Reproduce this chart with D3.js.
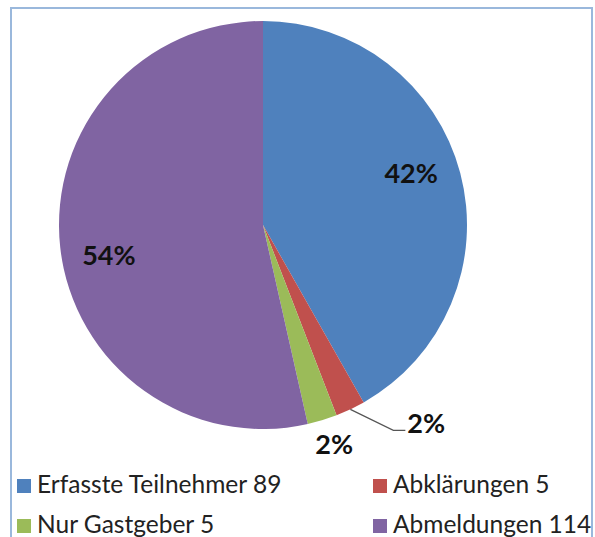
<!DOCTYPE html>
<html>
<head>
<meta charset="utf-8">
<script src="https://cdn.jsdelivr.net/npm/d3@7"></script>
<style>
  html, body { margin: 0; padding: 0; background: #fff; }
  svg { display: block; }
</style>
</head>
<body>
<svg id="chart"></svg>
<script>
const width = 595;
const height = 537;

// data
const categories = ["Erfasste Teilnehmer", "Abklärungen", "Nur Gastgeber", "Abmeldungen"];
const counts = [89, 5, 5, 114];
const percentLabels = ["42%", "2%", "2%", "54%"];
const colors = ["#4f81bd", "#c0504d", "#9bbb59", "#8064a2"];

const svg = d3.select("#chart")
  .attr("width", width)
  .attr("height", height);

// frame
svg.append("rect")
  .attr("x", 11).attr("y", 8)
  .attr("width", 581).attr("height", 560)
  .attr("fill", "none")
  .attr("stroke", "#9ab8dc")
  .attr("stroke-width", 2);

const cx = 263, cy = 225, r = 204;

const pie = d3.pie().sort(null).value(d => d);
const arcs = pie(counts);

const arc = d3.arc().innerRadius(0).outerRadius(r);
const labelArc = d3.arc().innerRadius(157).outerRadius(157);
const edgeArc = d3.arc().innerRadius(r).outerRadius(r);
const outerArc = d3.arc().innerRadius(230).outerRadius(230);

const g = svg.append("g").attr("transform", `translate(${cx},${cy})`);

g.selectAll("path.slice")
  .data(arcs)
  .join("path")
  .attr("class", "slice")
  .attr("d", arc)
  .attr("fill", (d, i) => colors[i]);

// --- labels ---
const labelFont = "Lato, 'Open Sans', sans-serif";
const total = d3.sum(counts);
// Excel nudges the inside labels a little counter-clockwise
const nudge = a => ({ startAngle: a.startAngle - 0.08, endAngle: a.endAngle - 0.08 });

function pctText(x, y, txt, anchor) {
  return g.append("text")
    .attr("x", x).attr("y", y)
    .attr("text-anchor", anchor)
    .attr("dominant-baseline", "central")
    .attr("font-family", labelFont)
    .attr("font-weight", "bold")
    .attr("font-size", 27)
    .attr("fill", "#111")
    .text(txt);
}

arcs.forEach((d, i) => {
  if (d.value / total > 0.1) {
    const [x, y] = labelArc.centroid(nudge(d));
    pctText(x, y, percentLabels[i], "middle");
  } else if (i === 1) {
    // red slice: label with leader line
    const [ax, ay] = edgeArc.centroid(d);
    const ex = ax + 43, ey = ay + 21;
    g.append("polyline")
      .attr("points", [[ax, ay], [ex, ey], [ex + 12, ey]].map(p => p.join(",")).join(" "))
      .attr("fill", "none")
      .attr("stroke", "#555")
      .attr("stroke-width", 1.2);
    pctText(ex + 14, ey - 8, percentLabels[i], "start");
  } else {
    const [x, y] = outerArc.centroid({ startAngle: d.startAngle - 0.02, endAngle: d.endAngle - 0.02 });
    pctText(x, y, percentLabels[i], "middle");
  }
});

// --- legend ---
const legend = svg.append("g");
const colX = d3.scaleOrdinal().domain([0, 1]).range([17, 373]);
const rowY = d3.scaleOrdinal().domain([0, 1]).range([493, 533]);

categories.forEach((c, i) => {
  const col = i % 2, row = Math.floor(i / 2);
  const item = legend.append("g")
    .attr("transform", `translate(${colX(col)},${rowY(row)})`);
  item.append("rect")
    .attr("x", 0).attr("y", -14)
    .attr("width", 14).attr("height", 14)
    .attr("fill", colors[i]);
  item.append("text")
    .attr("x", 20).attr("y", 0)
    .attr("font-family", labelFont)
    .attr("font-size", 24.5)
    .attr("fill", "#222")
    .text(`${c} ${counts[i]}`);
});
</script>
</body>
</html>
